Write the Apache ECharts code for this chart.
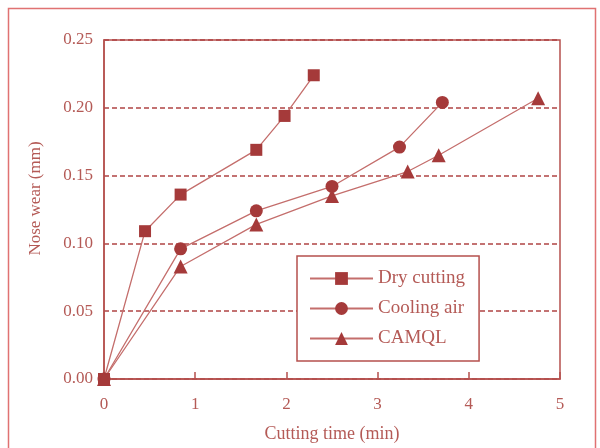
<!DOCTYPE html>
<html><head><meta charset="utf-8">
<script src="https://cdn.jsdelivr.net/npm/echarts@6/dist/echarts.min.js"></script>
<style>html,body{margin:0;padding:0;background:#fff;}#c{width:600px;height:448px;}</style>
</head><body><div id="c"></div>
<script>
const seriesNames = ['Dry cutting', 'Cooling air', 'CAMQL'];
const dryX = [0, 0.45, 0.84, 1.67, 1.98, 2.3];
const dryY = [0, 0.109, 0.136, 0.169, 0.194, 0.224];
const airX = [0, 0.84, 1.67, 2.5, 3.24, 3.71];
const airY = [0, 0.096, 0.124, 0.142, 0.171, 0.204];
const camX = [0, 0.84, 1.67, 2.5, 3.33, 3.67, 4.76];
const camY = [0, 0.083, 0.114, 0.135, 0.153, 0.165, 0.207];
const xTicks = [0, 1, 2, 3, 4, 5];
const yTicks = [0, 0.05, 0.10, 0.15, 0.20, 0.25];

const markColor = '#a53a3a';
const lineColor = '#c46e6c';
const axisColor = '#b5504e';
const textColor = '#b45a56';
const font = '"Liberation Serif", "DejaVu Serif", serif';

function pairs(xs, ys){ return xs.map((x,i)=>[x, ys[i]]); }

const chart = echarts.init(document.getElementById('c'), null, {renderer:'canvas'});
const mk = (name, xs, ys, symbol, size) => ({
  name, type:'line', data: pairs(xs, ys), symbol, symbolSize: size,
  itemStyle:{color: markColor},
  lineStyle:{color: lineColor, width: 1.3},
  z: 5
});
chart.setOption({
  animation:false,
  backgroundColor:'#fff',
  textStyle:{fontFamily:font},
  graphic:[{type:'rect', shape:{x:8.5, y:8.5, width:587, height:460}, style:{fill:'none', stroke:'#e07272', lineWidth:1.5}, z:-1}],
  grid:{left:104, right:40, top:40, bottom:68, show:true, borderColor:axisColor, borderWidth:1.5, backgroundColor:'transparent'},
  xAxis:{type:'value', min:xTicks[0], max:xTicks[xTicks.length-1], interval:1,
    name:'Cutting time (min)', nameLocation:'middle', nameGap:46,
    nameTextStyle:{color:textColor, fontSize:18, fontFamily:font},
    axisLine:{show:true, lineStyle:{color:axisColor, width:1.5}},
    axisTick:{show:true, inside:true, length:7, lineStyle:{color:axisColor, width:1.5}},
    axisLabel:{color:textColor, fontSize:17, margin:17, fontFamily:font},
    splitLine:{show:false}},
  yAxis:{type:'value', min:yTicks[0], max:yTicks[yTicks.length-1], interval:0.05,
    name:'Nose wear (mm)', nameLocation:'middle', nameGap:60,
    nameTextStyle:{color:textColor, fontSize:17, fontFamily:font, padding:[0,0,0,22]},
    axisLine:{show:true, lineStyle:{color:axisColor, width:1.5}},
    axisTick:{show:false},
    axisLabel:{color:textColor, fontSize:17, margin:11, fontFamily:font, formatter:v=>v.toFixed(2)},
    splitLine:{show:true, lineStyle:{color:'#b04444', type:[5,3], width:1.5}}},
  legend:{show:true, orient:'vertical', left:297, top:256,
    data: seriesNames,
    borderColor:axisColor, borderWidth:1.5, padding:[13,14,13,12],
    itemWidth:63, itemHeight:16, itemGap:11,
    backgroundColor:'#fff',
    textStyle:{color:textColor, fontSize:19, fontFamily:font}},
  series:[
    mk(seriesNames[0], dryX, dryY, 'rect', 12),
    mk(seriesNames[1], airX, airY, 'circle', 13),
    mk(seriesNames[2], camX, camY, 'triangle', 14)
  ]
});
</script></body></html>
